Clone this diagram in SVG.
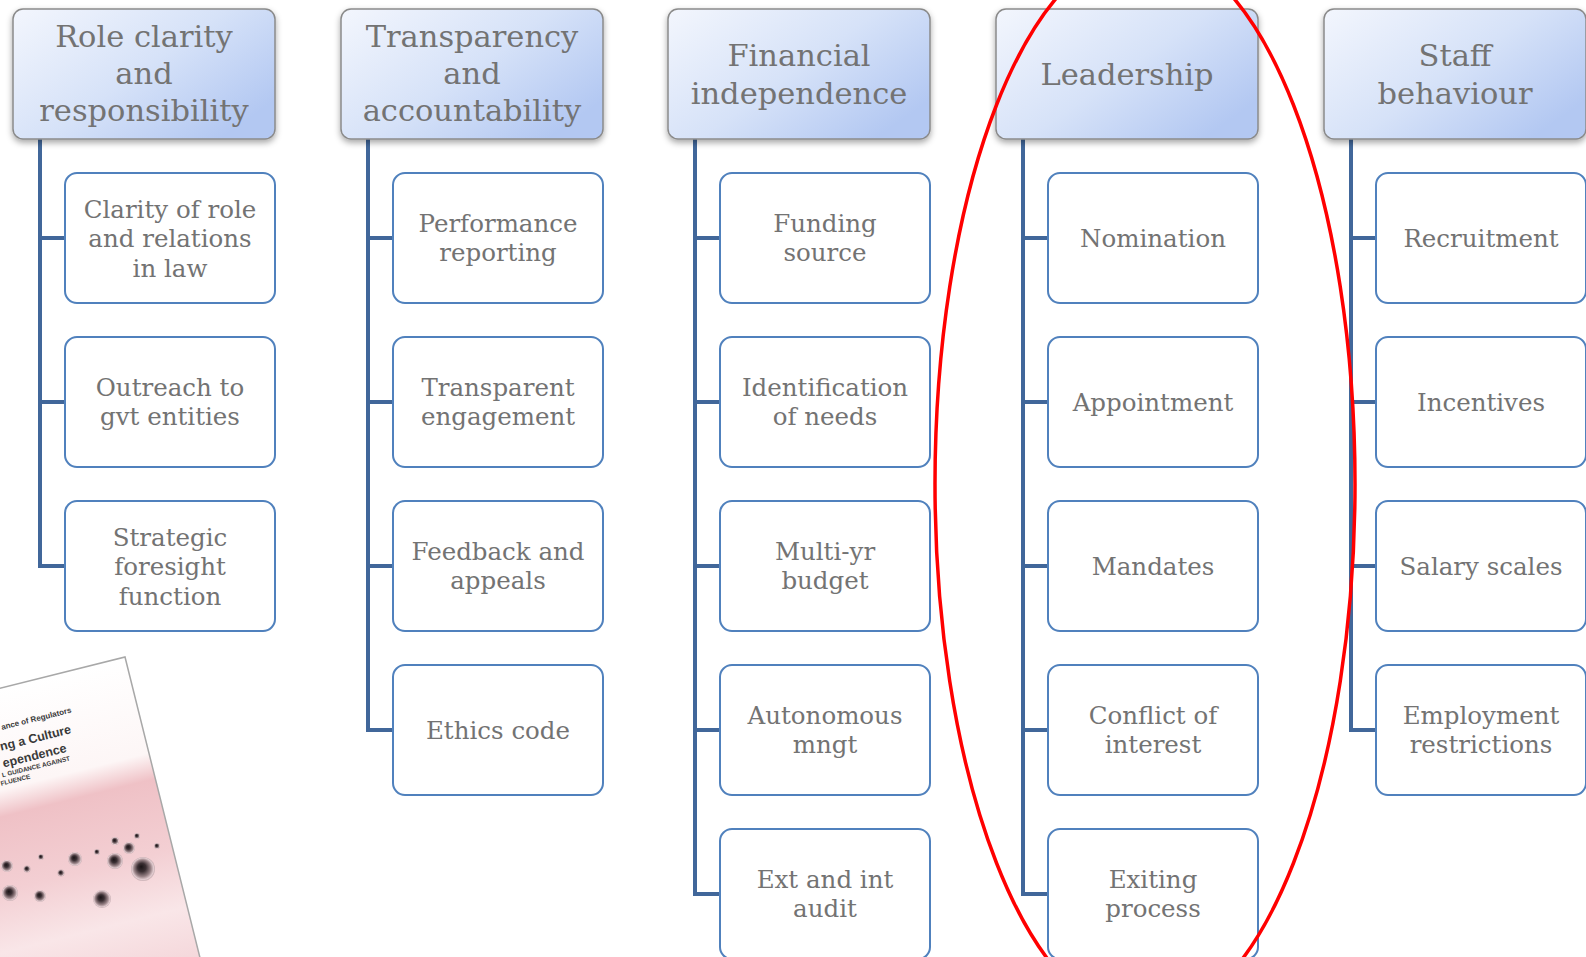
<svg xmlns="http://www.w3.org/2000/svg" width="1586" height="957" viewBox="0 0 1586 957">
<defs>
<linearGradient id="hdrGrad" x1="0" y1="0" x2="1" y2="0.7">
<stop offset="0" stop-color="#f3f6fd"/>
<stop offset="0.55" stop-color="#d6e2f8"/>
<stop offset="1" stop-color="#b3c8f2"/>
</linearGradient>
<filter id="shadow" x="-10%" y="-10%" width="120%" height="130%">
<feDropShadow dx="0" dy="3" stdDeviation="3" flood-color="#000" flood-opacity="0.35"/>
</filter>
<linearGradient id="coverGrad" gradientUnits="userSpaceOnUse" x1="0" y1="0" x2="0" y2="330">
<stop offset="0" stop-color="#ffffff"/>
<stop offset="0.30" stop-color="#fdf6f6"/>
<stop offset="0.38" stop-color="#efc1c6"/>
<stop offset="0.60" stop-color="#f3cfd3"/>
<stop offset="0.78" stop-color="#f9e6e8"/>
<stop offset="1" stop-color="#f3d2d6"/>
</linearGradient>
<radialGradient id="drop" cx="0.5" cy="0.5" r="0.5" fx="0.42" fy="0.4">
<stop offset="0" stop-color="#1a1416"/>
<stop offset="0.35" stop-color="#3c3034"/>
<stop offset="0.7" stop-color="#9a8488"/>
<stop offset="0.9" stop-color="#e2ccd0"/>
<stop offset="1" stop-color="#c7aeb2"/>
</radialGradient>
<style>
.hdr{fill:url(#hdrGrad);stroke:#8a8a8a;stroke-width:1.5;filter:url(#shadow)}
.box{fill:#ffffff;stroke:#5081bd;stroke-width:2}
.ht{font-family:"DejaVu Serif","Liberation Serif",serif;font-size:30.5px;fill:#737373;text-anchor:middle}
.ct{font-family:"DejaVu Serif","Liberation Serif",serif;font-size:24.5px;fill:#737373;text-anchor:middle}
.conn{fill:none;stroke:#41679a;stroke-width:4}
.cov{font-family:"Liberation Sans",Arial,sans-serif;font-weight:bold;fill:#3a3a3a;text-anchor:end}
</style>
</defs>
<rect width="1586" height="957" fill="#ffffff"/>

<g id="cover">
<g transform="translate(125,657) rotate(-14)">
<rect x="-400" y="0" width="400" height="420" fill="url(#coverGrad)" stroke="#a8a8a8" stroke-width="1.5"/>
<text class="cov" x="-65" y="41" font-size="8">ance of Regulators</text>
<text class="cov" x="-70" y="61" font-size="12.5">ng a Culture</text>
<text class="cov" x="-79" y="78" font-size="12.5">ependence</text>
<text class="cov" x="-78" y="87" font-size="6.4">L GUIDANCE AGAINST</text>
<text class="cov" x="-121" y="95" font-size="6.4">FLUENCE</text>
</g>
<g fill="url(#drop)">
<circle cx="143" cy="869" r="12"/>
<circle cx="115" cy="861" r="8"/>
<circle cx="129" cy="848" r="6"/>
<circle cx="115" cy="841" r="4"/>
<circle cx="137" cy="836" r="3"/>
<circle cx="157" cy="846" r="3"/>
<circle cx="97" cy="852" r="3"/>
<circle cx="75" cy="859" r="7"/>
<circle cx="61" cy="873" r="3.5"/>
<circle cx="41" cy="857" r="3"/>
<circle cx="27" cy="869" r="3.5"/>
<circle cx="7" cy="866" r="6"/>
<circle cx="10" cy="893" r="8"/>
<circle cx="40" cy="896" r="6"/>
<circle cx="102" cy="899" r="9"/>
</g>
</g>

<g id="connectors">
<path class="conn" d="M40 139 V566 H65 M40 238 H65 M40 402 H65"/>
<path class="conn" d="M368 139 V730 H393 M368 238 H393 M368 402 H393 M368 566 H393"/>
<path class="conn" d="M695 139 V894 H720 M695 238 H720 M695 402 H720 M695 566 H720 M695 730 H720"/>
<path class="conn" d="M1023 139 V894 H1048 M1023 238 H1048 M1023 402 H1048 M1023 566 H1048 M1023 730 H1048"/>
<path class="conn" d="M1351 139 V730 H1376 M1351 238 H1376 M1351 402 H1376 M1351 566 H1376"/>
</g>

<g id="h1"><rect class="hdr" x="13" y="9" width="262" height="130" rx="10"/>
<text class="ht" y="47"><tspan x="144">Role clarity</tspan><tspan x="144" dy="37">and</tspan><tspan x="144" dy="37">responsibility</tspan></text></g>
<g id="h2"><rect class="hdr" x="341" y="9" width="262" height="130" rx="10"/>
<text class="ht" y="47"><tspan x="472">Transparency</tspan><tspan x="472" dy="37">and</tspan><tspan x="472" dy="37">accountability</tspan></text></g>
<g id="h3"><rect class="hdr" x="668" y="9" width="262" height="130" rx="10"/>
<text class="ht" y="66"><tspan x="799">Financial</tspan><tspan x="799" dy="38">independence</tspan></text></g>
<g id="h4"><rect class="hdr" x="996" y="9" width="262" height="130" rx="10"/>
<text class="ht" x="1127" y="85">Leadership</text></g>
<g id="h5"><rect class="hdr" x="1324" y="9" width="262" height="130" rx="10"/>
<text class="ht" y="66"><tspan x="1455">Staff</tspan><tspan x="1455" dy="38">behaviour</tspan></text></g>

<g id="c1a"><rect class="box" x="65" y="173" width="210" height="130" rx="12"/>
<text class="ct" y="217.5"><tspan x="170">Clarity of role</tspan><tspan x="170" dy="29.5">and relations</tspan><tspan x="170" dy="29.5">in law</tspan></text></g>
<g id="c1b"><rect class="box" x="65" y="337" width="210" height="130" rx="12"/>
<text class="ct" y="395.5"><tspan x="170">Outreach to</tspan><tspan x="170" dy="29.5">gvt entities</tspan></text></g>
<g id="c1c"><rect class="box" x="65" y="501" width="210" height="130" rx="12"/>
<text class="ct" y="545.5"><tspan x="170">Strategic</tspan><tspan x="170" dy="29.5">foresight</tspan><tspan x="170" dy="29.5">function</tspan></text></g>

<g id="c2a"><rect class="box" x="393" y="173" width="210" height="130" rx="12"/>
<text class="ct" y="231.5"><tspan x="498">Performance</tspan><tspan x="498" dy="29.5">reporting</tspan></text></g>
<g id="c2b"><rect class="box" x="393" y="337" width="210" height="130" rx="12"/>
<text class="ct" y="395.5"><tspan x="498">Transparent</tspan><tspan x="498" dy="29.5">engagement</tspan></text></g>
<g id="c2c"><rect class="box" x="393" y="501" width="210" height="130" rx="12"/>
<text class="ct" y="559.5"><tspan x="498">Feedback and</tspan><tspan x="498" dy="29.5">appeals</tspan></text></g>
<g id="c2d"><rect class="box" x="393" y="665" width="210" height="130" rx="12"/>
<text class="ct" x="498" y="739">Ethics code</text></g>

<g id="c3a"><rect class="box" x="720" y="173" width="210" height="130" rx="12"/>
<text class="ct" y="231.5"><tspan x="825">Funding</tspan><tspan x="825" dy="29.5">source</tspan></text></g>
<g id="c3b"><rect class="box" x="720" y="337" width="210" height="130" rx="12"/>
<text class="ct" y="395.5"><tspan x="825">Identification</tspan><tspan x="825" dy="29.5">of needs</tspan></text></g>
<g id="c3c"><rect class="box" x="720" y="501" width="210" height="130" rx="12"/>
<text class="ct" y="559.5"><tspan x="825">Multi-yr</tspan><tspan x="825" dy="29.5">budget</tspan></text></g>
<g id="c3d"><rect class="box" x="720" y="665" width="210" height="130" rx="12"/>
<text class="ct" y="723.5"><tspan x="825">Autonomous</tspan><tspan x="825" dy="29.5">mngt</tspan></text></g>
<g id="c3e"><rect class="box" x="720" y="829" width="210" height="130" rx="12"/>
<text class="ct" y="887.5"><tspan x="825">Ext and int</tspan><tspan x="825" dy="29.5">audit</tspan></text></g>

<g id="c4a"><rect class="box" x="1048" y="173" width="210" height="130" rx="12"/>
<text class="ct" x="1153" y="247">Nomination</text></g>
<g id="c4b"><rect class="box" x="1048" y="337" width="210" height="130" rx="12"/>
<text class="ct" x="1153" y="411">Appointment</text></g>
<g id="c4c"><rect class="box" x="1048" y="501" width="210" height="130" rx="12"/>
<text class="ct" x="1153" y="575">Mandates</text></g>
<g id="c4d"><rect class="box" x="1048" y="665" width="210" height="130" rx="12"/>
<text class="ct" y="723.5"><tspan x="1153">Conflict of</tspan><tspan x="1153" dy="29.5">interest</tspan></text></g>
<g id="c4e"><rect class="box" x="1048" y="829" width="210" height="130" rx="12"/>
<text class="ct" y="887.5"><tspan x="1153">Exiting</tspan><tspan x="1153" dy="29.5">process</tspan></text></g>

<g id="c5a"><rect class="box" x="1376" y="173" width="210" height="130" rx="12"/>
<text class="ct" x="1481" y="247">Recruitment</text></g>
<g id="c5b"><rect class="box" x="1376" y="337" width="210" height="130" rx="12"/>
<text class="ct" x="1481" y="411">Incentives</text></g>
<g id="c5c"><rect class="box" x="1376" y="501" width="210" height="130" rx="12"/>
<text class="ct" x="1481" y="575">Salary scales</text></g>
<g id="c5d"><rect class="box" x="1376" y="665" width="210" height="130" rx="12"/>
<text class="ct" y="723.5"><tspan x="1481">Employment</tspan><tspan x="1481" dy="29.5">restrictions</tspan></text></g>

<g id="highlight">
<ellipse cx="1145" cy="484" rx="210" ry="536" fill="none" stroke="#ff0000" stroke-width="3.5"/>
</g>
</svg>
